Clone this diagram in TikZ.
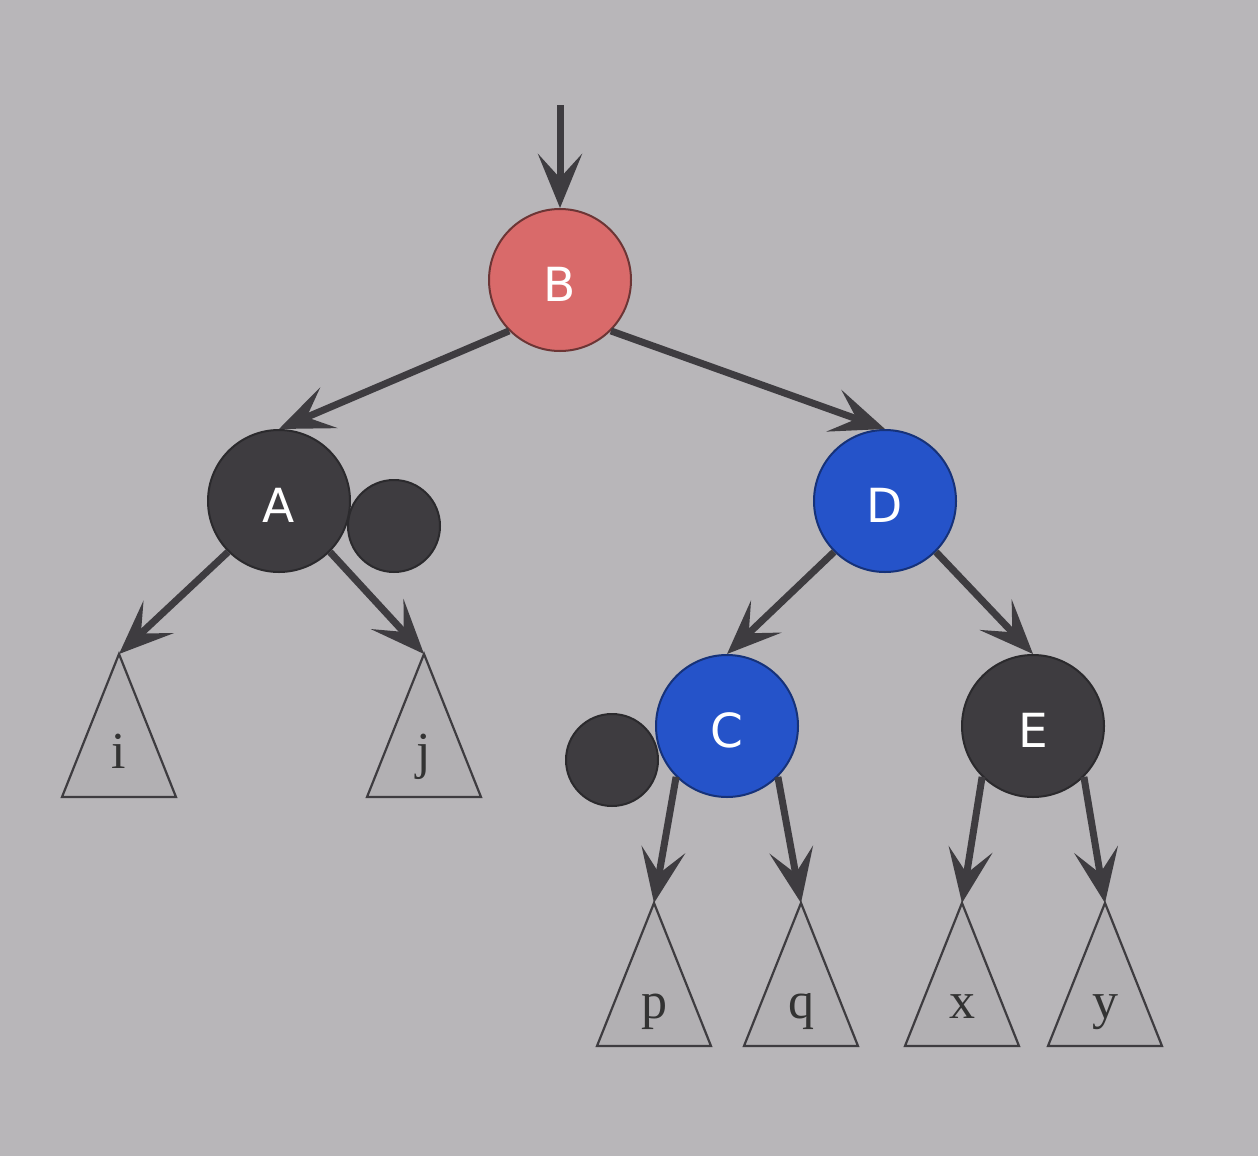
\documentclass[tikz,border=0pt]{standalone}
\usepackage{fontspec}
\newfontfamily\lblfont{DejaVu Sans}
\newfontfamily\trifont{Liberation Serif}
\usetikzlibrary{arrows.meta}
\definecolor{bg}{HTML}{B8B6B9}
\definecolor{ink}{HTML}{3E3C40}
\definecolor{redn}{HTML}{D96A6A}
\definecolor{bluen}{HTML}{2553C9}
\definecolor{trifill}{HTML}{B2B0B3}
\tikzset{
  rbnode/.style={circle,inner sep=0pt,minimum size=142pt,line width=2pt,text=white,
    text height=43pt,text depth=0pt,
    font=\lblfont\fontsize{47}{50}\selectfont},
  rednode/.style={rbnode,fill=redn,draw=redn!50!black},
  bluenode/.style={rbnode,fill=bluen,draw=bluen!60!black},
  blacknode/.style={rbnode,fill=ink,draw=ink!70!black},
  extranode/.style={circle,inner sep=0pt,minimum size=92pt,line width=2pt,fill=ink,draw=ink!70!black},
  tree/.style={fill=trifill,draw=ink,line width=2.2pt,line join=miter},
  treelbl/.style={anchor=base,inner sep=0pt,font=\trifont\fontsize{52}{56}\selectfont,text=black!80},
  edge/.style={draw=ink,line width=7pt,-{Stealth[length=54pt,width=44pt,inset=24pt]}}
}
\begin{document}
\begin{tikzpicture}[x=1pt,y=-1pt]
\fill[bg] (0,0) rectangle (1258,1156);
\useasboundingbox (0,0) rectangle (1258,1156);
% extra circles (drawn first)
\node[extranode] (xa) at (394,526) {};
\node[extranode] (xc) at (612,760) {};
% main nodes
\node[rednode] (B) at (560,280) {B};
\node[blacknode] (A) at (279,501) {A};
\node[bluenode] (D) at (885,501) {D};
\node[bluenode] (C) at (727,726) {C};
\node[blacknode] (E) at (1033,726) {E};
% subtrees
\coordinate (ti) at (119,654);
\coordinate (tj) at (424,654);
\coordinate (tp) at (654,903);
\coordinate (tq) at (801,903);
\coordinate (tx) at (962,903);
\coordinate (ty) at (1105,903);
\foreach \t in {ti,tj,tp,tq,tx,ty}{
  \draw[tree] (\t) -- ++(-57,143) -- ++(114,0) -- cycle;
}
\node[treelbl] (li) at (119,768) {i};
\node[treelbl] (lj) at (424,768) {j};
\node[treelbl] (lp) at (654,1018) {p};
\node[treelbl] (lq) at (801,1018) {q};
\node[treelbl] (lx) at (962,1018) {x};
\node[treelbl] (ly) at (1105,1018) {y};
% root pointer
\coordinate (top) at (560,105);
\draw[edge] (top) -- (B.north);
% edges
\draw[edge] (B.225) -- (A.north);
\draw[edge] (B.315) -- (D.north);
\draw[edge] (A.225) -- (ti);
\draw[edge] (A.315) -- (tj);
\draw[edge] (D.225) -- (C.north);
\draw[edge] (D.315) -- (E.north);
\draw[edge] (C.225) -- (tp);
\draw[edge] (C.315) -- (tq);
\draw[edge] (E.225) -- (tx);
\draw[edge] (E.315) -- (ty);
\end{tikzpicture}
\end{document}
